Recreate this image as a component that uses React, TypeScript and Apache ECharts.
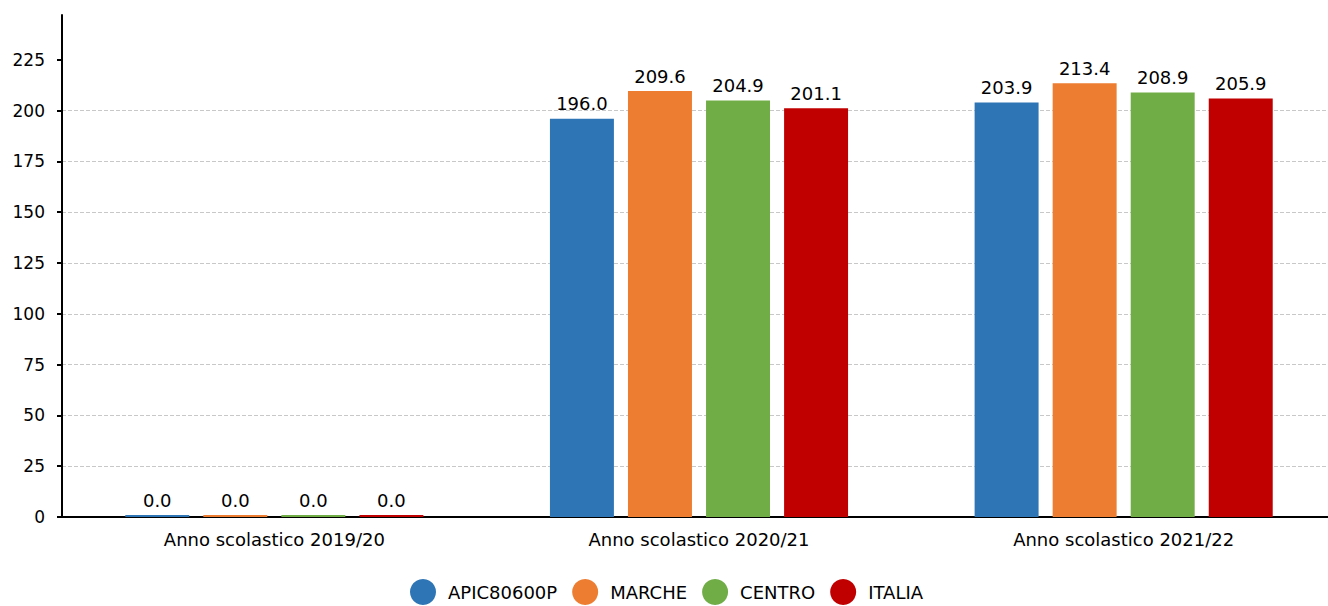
import React, { useEffect, useRef } from "react";
import * as echarts from "echarts";

const categories = ["Anno scolastico 2019/20", "Anno scolastico 2020/21", "Anno scolastico 2021/22"];
const seriesNames = ["APIC80600P", "MARCHE", "CENTRO", "ITALIA"];
const apic = [0.0, 196.0, 203.9];
const marche = [0.0, 209.6, 213.4];
const centro = [0.0, 204.9, 208.9];
const italia = [0.0, 201.1, 205.9];
const colors = ["#2e75b6", "#ed7d31", "#70ad47", "#c00000"];
const yTicks = [0, 25, 50, 75, 100, 125, 150, 175, 200, 225];

const FONT = "DejaVu Sans";

export default function App() {
  const ref = useRef<HTMLDivElement>(null);
  useEffect(() => {
    if (!ref.current) return;
    const chart = echarts.init(ref.current, null, { renderer: "svg" });
    const values = [apic, marche, centro, italia];
    chart.setOption({
      animation: false,
      textStyle: { fontFamily: FONT },
      grid: { left: 62, right: 0, top: 15, bottom: 89, containLabel: false },
      legend: {
        top: 574,
        left: 405,
        icon: "circle",
        itemWidth: 40,
        itemHeight: 26,
        itemGap: 15,
        textStyle: { fontSize: 18, color: "#000", fontFamily: FONT },
        data: seriesNames,
      },
      xAxis: {
        type: "category",
        data: categories,
        axisLine: { lineStyle: { color: "#000", width: 2 } },
        axisTick: { show: false },
        axisLabel: { color: "#000", fontSize: 18, fontFamily: FONT, margin: 13 },
      },
      yAxis: {
        type: "value",
        min: 0,
        max: 247,
        interval: 25,
        axisLine: { show: true, lineStyle: { color: "#000", width: 2 } },
        axisTick: { show: true, length: 5, lineStyle: { color: "#000", width: 2 }, customValues: yTicks },
        axisLabel: { color: "#000", fontSize: 17, fontFamily: FONT, margin: 17, customValues: yTicks },
        splitLine: { show: true, showMaxLine: false, lineStyle: { color: "#c8c8c8", type: "dashed", width: 1 } },
      },
      series: seriesNames.map((name, i) => ({
        name,
        type: "bar",
        data: values[i],
        barMinHeight: 2,
        barGap: "22%",
        barCategoryGap: "29.8%",
        itemStyle: { color: colors[i] },
        label: {
          show: true,
          position: "top",
          distance: 6,
          color: "#000",
          fontSize: 18,
          fontFamily: FONT,
          formatter: (p: any) => Number(p.value).toFixed(1),
        },
      })),
    });
    return () => chart.dispose();
  }, []);
  return (
    <div style={{ position: "absolute", left: 0, top: 0, width: 1328, height: 606, overflow: "hidden" }}>
      <div ref={ref} style={{ width: 1336, height: 606 }} />
    </div>
  );
}
